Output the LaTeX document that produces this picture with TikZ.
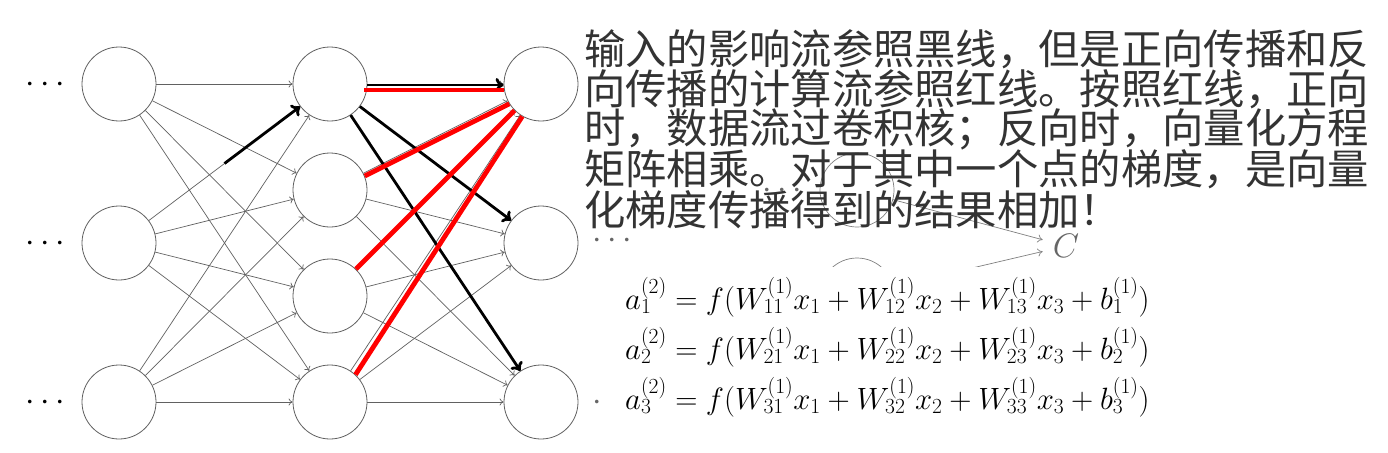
\RequirePackage{fix-cm}
\documentclass[tikz,border=0pt]{standalone}
\usepackage{fontspec}
\newfontfamily\cjk{Noto Sans CJK SC}
\usetikzlibrary{arrows.meta,calc}
\begin{document}
\begin{tikzpicture}[x=1pt,y=-1pt,
  neuron/.style={circle,draw=black!62,line width=0.8pt,minimum size=74pt,inner sep=0pt,fill=white},
  thinedge/.style={draw=black!62,line width=0.7pt,-{To[length=4pt,width=7pt]}},
  thickarrow/.style={draw=black,line width=2.8pt,-{To[length=8pt,width=14pt]}},
  redline/.style={draw=red,line width=4.8pt},
  ghost/.style={draw=black!50,line width=0.7pt},
  dotsty/.style={anchor=base,inner sep=0pt,font=\fontsize{34}{34}\selectfont},
  cjkline/.style={anchor=west,inner sep=0pt,text=black!80,font=\cjk\fontsize{41.3}{41.3}\selectfont},
  eqline/.style={anchor=base west,inner sep=0pt,font=\fontsize{30.8}{36}\selectfont}]
\useasboundingbox[fill=white] (0,0) rectangle (1388,452);

% left dots
\node[dotsty] (ld1) at (45,92) {$\cdots$};
\node[dotsty] (ld2) at (45,251) {$\cdots$};
\node[dotsty] (ld3) at (45,410) {$\cdots$};

% neurons
\node[neuron] (L1) at (119,84) {};
\node[neuron] (L2) at (119,243) {};
\node[neuron] (L3) at (119,402) {};
\node[neuron] (M1) at (330,84) {};
\node[neuron] (M2) at (330,190) {};
\node[neuron] (M3) at (330,296) {};
\node[neuron] (M4) at (330,402) {};
\node[neuron] (R1) at (541,84) {};
\node[neuron] (R2) at (541,243) {};
\node[neuron] (R3) at (541,402) {};

\foreach \a in {L1,L2,L3}
  \foreach \b in {M1,M2,M3,M4}
    \draw[thinedge] (\a) -- (\b);
\foreach \a in {M1,M2,M3,M4}
  \foreach \b in {R1,R2,R3}
    \draw[thinedge] (\a) -- (\b);

% thick black arrows
\coordinate (mid) at ($(L2)!0.5!(M1)$);
\draw[thickarrow] (mid) -- (M1);
\draw[thickarrow] ([yshift=-1pt]M1.east) -- ([yshift=-1pt]R1.west);
\draw[thickarrow] (M1) -- (R2);
\draw[thickarrow] (M1) -- (R3);

% red lines
\draw[redline] ([shift={(-3pt,-6pt)}]M1.east) -- ([yshift=-6pt]R1.west);
\draw[redline] (M2.22) -- (R1.212);
\draw[redline] (M3.46) -- (R1.225);
\draw[redline] (M4.47) -- (R1.240);

% ghost figure behind the text
\node[dotsty,text=black!60] (gd1) at (782,198) {$\cdots$};
\node[dotsty,text=black!60] (gd2) at (612,248) {$\cdots$};
\node[dotsty,text=black!60] (rd3) at (597,410) {$\cdot$};
\node[circle,ghost,minimum size=74pt,inner sep=0pt] (G1) at (857,190) {};
\node[circle,ghost,minimum size=74pt,inner sep=0pt] (G2) at (857,295) {};
\node[inner sep=10pt,text=black!60,font=\fontsize{34}{34}\selectfont] (C) at (1066,246) {$C$};
\draw[ghost,-{To[length=5pt,width=8pt]}] (G1) -- (C);
\draw[ghost,-{To[length=5pt,width=8pt]}] (G2) -- (C);
\fill[white] (604,267) rectangle (1175,440);

% text
\node[cjkline] (t1) at (584,49.5) {输入的影响流参照黑线，但是正向传播和反};
\node[cjkline] (t2) at (584,89.5) {向传播的计算流参照红线。按照红线，正向};
\node[cjkline] (t3) at (584,129.5) {时，数据流过卷积核；反向时，向量化方程};
\node[cjkline] (t4) at (584,169.5) {矩阵相乘。对于其中一个点的梯度，是向量};
\node[cjkline] (t5) at (584,209.5) {化梯度传播得到的结果相加！};

% equations
\node[eqline] (e1) at (625,309) {$a_1^{(2)} = f(W_{11}^{(1)}x_1 + W_{12}^{(1)}x_2 + W_{13}^{(1)}x_3 + b_1^{(1)})$};
\node[eqline] (e2) at (625,359) {$a_2^{(2)} = f(W_{21}^{(1)}x_1 + W_{22}^{(1)}x_2 + W_{23}^{(1)}x_3 + b_2^{(1)})$};
\node[eqline] (e3) at (625,409) {$a_3^{(2)} = f(W_{31}^{(1)}x_1 + W_{32}^{(1)}x_2 + W_{33}^{(1)}x_3 + b_3^{(1)})$};
\end{tikzpicture}
\end{document}
